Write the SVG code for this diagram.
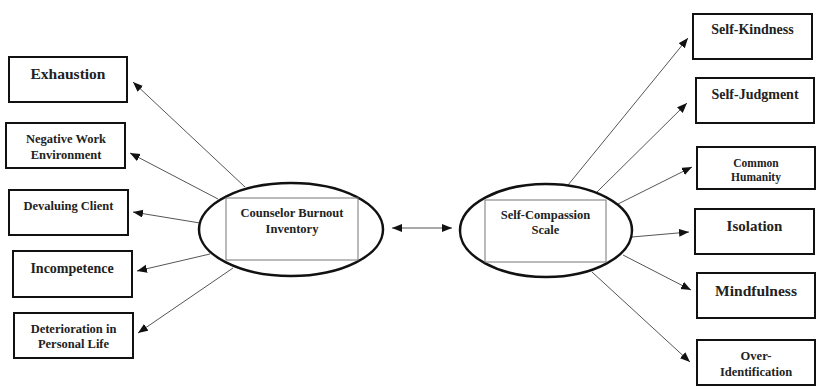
<svg xmlns="http://www.w3.org/2000/svg" width="817" height="386" viewBox="0 0 817 386">
<defs>
<marker id="ah" markerUnits="userSpaceOnUse" markerWidth="11" markerHeight="9" refX="10" refY="4" orient="auto-start-reverse">
<path d="M0,0 L10,4 L0,8 z" fill="#111"/>
</marker>
</defs>
<style>
.box{fill:#fff;stroke:#111;stroke-width:2}
.ell{fill:#fff;stroke:#111;stroke-width:2.5}
.inner{fill:none;stroke:#777;stroke-width:1}
.t{font-family:"Liberation Serif","Times New Roman",serif;font-weight:bold;fill:#222;text-anchor:middle}
.ln{stroke:#555;stroke-width:1;fill:none;marker-end:url(#ah)}
</style>
<rect width="817" height="386" fill="#fff"/>
<g id="connectors">
<line class="ln" x1="245" y1="187" x2="133" y2="82"/>
<line class="ln" x1="218" y1="199" x2="130" y2="153"/>
<line class="ln" x1="200" y1="223" x2="133" y2="212"/>
<line class="ln" x1="210" y1="254" x2="137" y2="271"/>
<line class="ln" x1="233" y1="268" x2="138" y2="333"/>
<line class="ln" x1="392" y1="228" x2="452" y2="228" style="marker-start:url(#ah)"/>
<line class="ln" x1="568" y1="185" x2="688" y2="38"/>
<line class="ln" x1="597" y1="192" x2="687" y2="103"/>
<line class="ln" x1="618" y1="204" x2="692" y2="167"/>
<line class="ln" x1="632" y1="237" x2="689" y2="232"/>
<line class="ln" x1="623" y1="255" x2="691" y2="290"/>
<line class="ln" x1="592" y1="272" x2="690" y2="362"/>
</g>
<g id="cbi">
<ellipse class="ell" cx="291" cy="229.5" rx="92" ry="46.5"/>
<rect class="inner" x="226" y="198" width="132" height="62"/>
<text class="t" x="292" y="216.5" font-size="12.5">Counselor Burnout</text>
<text class="t" x="292" y="232.5" font-size="12.5">Inventory</text>
</g>
<g id="scs">
<ellipse class="ell" cx="546" cy="230.5" rx="86" ry="46.5"/>
<rect class="inner" x="485" y="200" width="121" height="62"/>
<text class="t" x="545.5" y="218.5" font-size="12.5">Self-Compassion</text>
<text class="t" x="545.5" y="234" font-size="12.5">Scale</text>
</g>
<g id="exhaustion">
<rect class="box" x="9" y="57" width="118" height="45"/>
<text class="t" x="68" y="79" font-size="15.5">Exhaustion</text>
</g>
<g id="negative-work">
<rect class="box" x="6" y="123" width="119" height="45"/>
<text class="t" x="66" y="143" font-size="12.5">Negative Work</text>
<text class="t" x="66" y="158.5" font-size="12.5">Environment</text>
</g>
<g id="devaluing">
<rect class="box" x="9" y="190" width="119" height="45"/>
<text class="t" x="68.5" y="210" font-size="12.5">Devaluing Client</text>
</g>
<g id="incompetence">
<rect class="box" x="13" y="251" width="119" height="46"/>
<text class="t" x="72" y="272.5" font-size="14">Incompetence</text>
</g>
<g id="deterioration">
<rect class="box" x="14" y="313" width="119" height="45"/>
<text class="t" x="73.5" y="333" font-size="12.5">Deterioration in</text>
<text class="t" x="73.5" y="348" font-size="12.5">Personal Life</text>
</g>
<g id="self-kindness">
<rect class="box" x="693" y="14" width="119" height="45"/>
<text class="t" x="752.5" y="34" font-size="14">Self-Kindness</text>
</g>
<g id="self-judgment">
<rect class="box" x="696" y="78" width="118" height="45"/>
<text class="t" x="755" y="98.5" font-size="14">Self-Judgment</text>
</g>
<g id="common-humanity">
<rect class="box" x="697" y="147" width="118" height="42"/>
<text class="t" x="756" y="166.5" font-size="11.5">Common</text>
<text class="t" x="756" y="181" font-size="11.5">Humanity</text>
</g>
<g id="isolation">
<rect class="box" x="695" y="209" width="119" height="45"/>
<text class="t" x="754.5" y="231" font-size="15">Isolation</text>
</g>
<g id="mindfulness">
<rect class="box" x="697" y="273" width="118" height="45"/>
<text class="t" x="756" y="295.5" font-size="15.5">Mindfulness</text>
</g>
<g id="over-identification">
<rect class="box" x="697" y="340" width="118" height="45"/>
<text class="t" x="756" y="360" font-size="12.5">Over-</text>
<text class="t" x="756" y="375.5" font-size="12.5">Identification</text>
</g>
</svg>
